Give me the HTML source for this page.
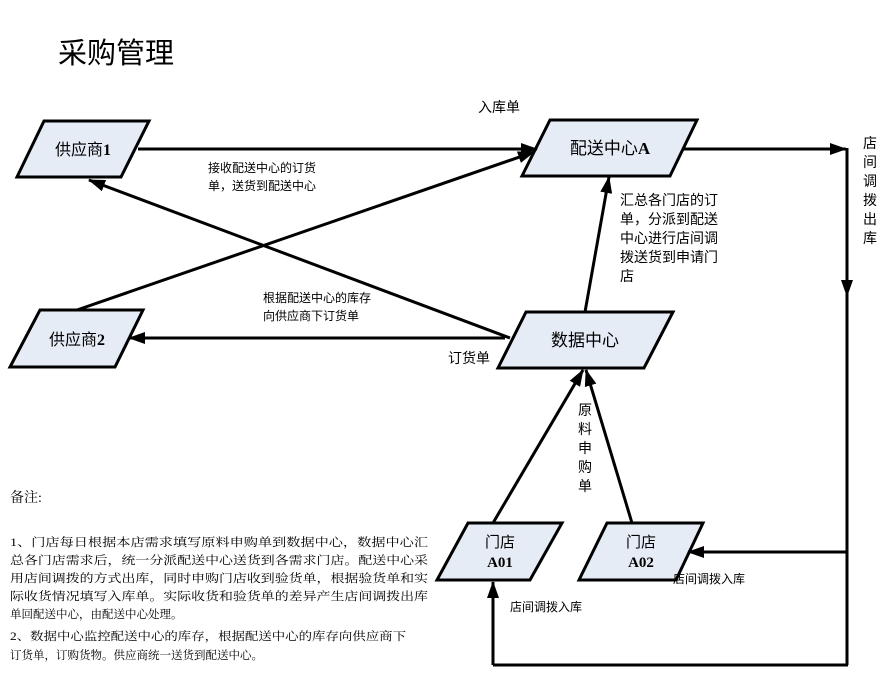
<!DOCTYPE html>
<html><head><meta charset="utf-8"><style>
html,body{margin:0;padding:0;background:#fff;}
svg{display:block;font-family:"Liberation Serif","Noto Serif CJK SC","Noto Sans CJK SC",serif;}
</style></head><body>
<svg width="895" height="687" viewBox="0 0 895 687" xmlns="http://www.w3.org/2000/svg">
<defs>
<marker id="b" markerWidth="17" markerHeight="12" refX="16" refY="6" orient="auto" markerUnits="userSpaceOnUse"><path d="M0,0 L17,6 L0,12 Z" fill="#000"/></marker>
</defs>
<text x="58" y="63" font-size="29" font-family="Liberation Sans,Noto Sans CJK SC,sans-serif">采购管理</text>
<g fill="#e6ecf6" stroke="#000" stroke-width="3">
<polygon points="44,121 149,121 121,177 17,177"/>
<polygon points="40,310 143,310 115,367 10,367"/>
<polygon points="550,120 697,120 670,176 522,176"/>
<polygon points="526,312 673,312 644,368 498,368"/>
<polygon points="468,523 562,523 530,580 437,580"/>
<polygon points="607,523 703,523 676,580 579,580"/>
</g>
<g font-size="16" text-anchor="middle" font-family="Liberation Sans,Noto Sans CJK SC,sans-serif">
<text x="83" y="155">供应商<tspan font-weight="bold" font-family="Liberation Serif">1</tspan></text>
<text x="77" y="345">供应商<tspan font-weight="bold" font-family="Liberation Serif">2</tspan></text>
<text x="610" y="154" font-size="17">配送中心<tspan font-weight="bold" font-family="Liberation Serif">A</tspan></text>
<text x="585" y="346" font-size="17">数据中心</text>
<text x="500" y="547" font-size="15">门店</text>
<text x="500" y="567" font-size="15" font-weight="bold" font-family="Liberation Serif">A01</text>
<text x="641" y="547" font-size="15">门店</text>
<text x="641" y="567" font-size="15" font-weight="bold" font-family="Liberation Serif">A02</text>
</g>
<g stroke="#000" stroke-width="3" fill="none">
<line x1="138" y1="149" x2="537" y2="149" marker-end="url(#b)"/>
<line x1="77" y1="310" x2="534" y2="152" marker-end="url(#b)"/>
<line x1="510" y1="338" x2="89" y2="180" marker-end="url(#b)"/>
<line x1="505" y1="338" x2="129" y2="338" marker-end="url(#b)"/>
<line x1="585" y1="312" x2="609" y2="177" marker-end="url(#b)"/>
<line x1="684" y1="149" x2="846" y2="149" marker-end="url(#b)"/>
<line x1="847" y1="148" x2="847" y2="296" marker-end="url(#b)"/>
<line x1="847" y1="290" x2="847" y2="665"/>
<line x1="848" y1="665" x2="493" y2="665"/>
<line x1="493" y1="665" x2="493" y2="582" marker-end="url(#b)"/>
<line x1="847" y1="552" x2="688" y2="552" marker-end="url(#b)"/>
<line x1="493" y1="523" x2="583" y2="370" marker-end="url(#b)"/>
<line x1="632" y1="523" x2="586" y2="370" marker-end="url(#b)"/>
</g>
<g font-size="14" font-family="Liberation Sans,Noto Sans CJK SC,sans-serif">
<text x="478" y="112">入库单</text>
<text x="448" y="363">订货单</text>
<g font-size="12"><text x="208" y="172">接收配送中心的订货</text><text x="208" y="190">单，送货到配送中心</text>
<text x="263" y="302">根据配送中心的库存</text><text x="263" y="320">向供应商下订货单</text>
<text x="673" y="583">店间调拨入库</text><text x="510" y="611">店间调拨入库</text></g>
<text x="620" y="205">汇总各门店的订</text>
<text x="620" y="224">单，分派到配送</text>
<text x="620" y="243">中心进行店间调</text>
<text x="620" y="262">拨送货到申请门</text>
<text x="620" y="281">店</text>
<g text-anchor="middle"><text x="870" y="148">店</text><text x="870" y="167">间</text><text x="870" y="186">调</text><text x="870" y="205">拨</text><text x="870" y="224">出</text><text x="870" y="243">库</text>
<text x="585" y="415">原</text><text x="585" y="434">料</text><text x="585" y="453">申</text><text x="585" y="472">购</text><text x="585" y="491">单</text></g>
</g>
<g font-size="11.5">
<text x="10" y="502" font-size="14">备注:</text>
<text x="10" y="546" textLength="418" lengthAdjust="spacingAndGlyphs">1、门店每日根据本店需求填写原料申购单到数据中心，数据中心汇</text>
<text x="10" y="564" textLength="418" lengthAdjust="spacingAndGlyphs">总各门店需求后，统一分派配送中心送货到各需求门店。配送中心采</text>
<text x="10" y="582" textLength="418" lengthAdjust="spacingAndGlyphs">用店间调拨的方式出库，同时申购门店收到验货单，根据验货单和实</text>
<text x="10" y="600" textLength="418" lengthAdjust="spacingAndGlyphs">际收货情况填写入库单。实际收货和验货单的差异产生店间调拨出库</text>
<text x="10" y="618">单回配送中心，由配送中心处理。</text>
<text x="10" y="640" textLength="396" lengthAdjust="spacingAndGlyphs">2、数据中心监控配送中心的库存，根据配送中心的库存向供应商下</text>
<text x="10" y="659">订货单，订购货物。供应商统一送货到配送中心。</text>
</g>
</svg>
</body></html>
